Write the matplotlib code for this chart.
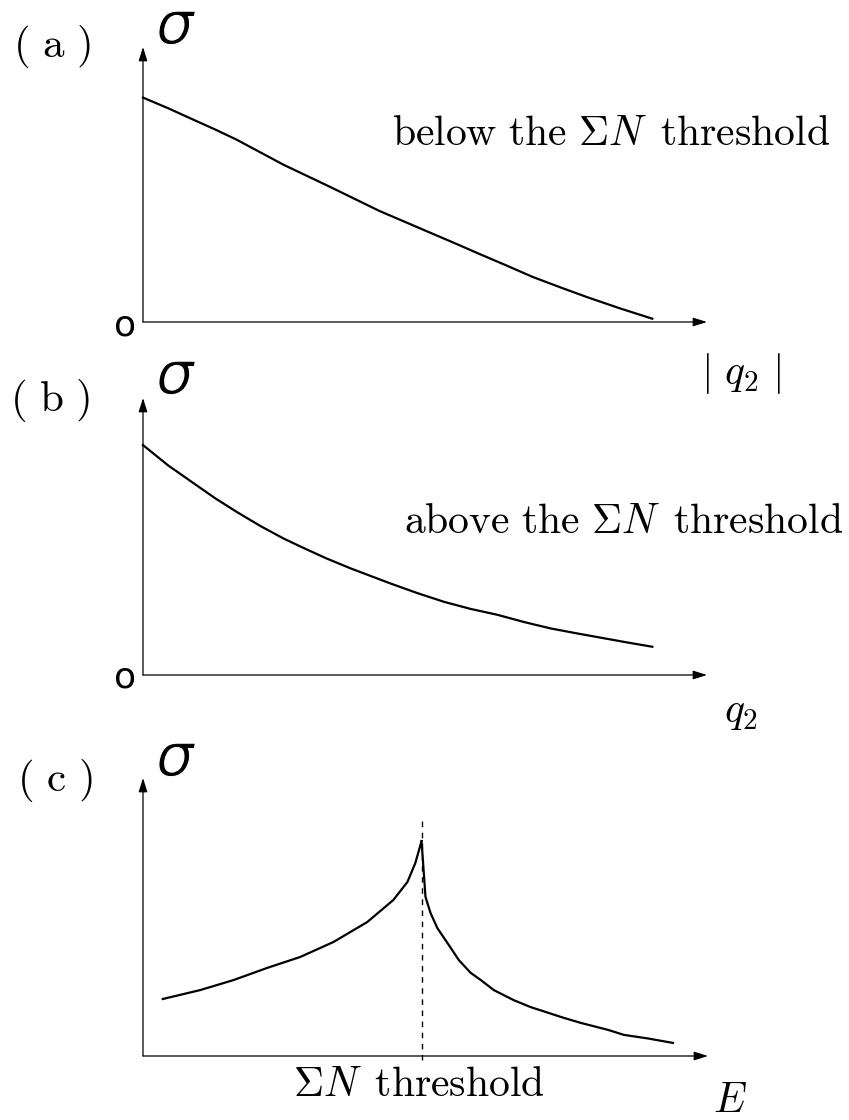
import numpy as np
import matplotlib
matplotlib.use("Agg")
import matplotlib.pyplot as plt
import matplotlib.patheffects as pe

plt.rcParams['mathtext.fontset'] = 'cm'

W, H = 849, 1120

# curve data (x and sigma as fractions of the drawn axis lengths)
a_x = [0.0, 0.045, 0.090, 0.128, 0.166, 0.208, 0.249, 0.290, 0.331, 0.375, 0.419,
       0.460, 0.502, 0.550, 0.597, 0.645, 0.692, 0.740, 0.788, 0.845, 0.903]
a_sigma = [0.816, 0.777, 0.735, 0.700, 0.663, 0.617, 0.572, 0.532, 0.492, 0.448, 0.404,
           0.368, 0.331, 0.289, 0.247, 0.205, 0.163, 0.126, 0.090, 0.050, 0.012]

b_x = [0.0, 0.045, 0.090, 0.128, 0.166, 0.208, 0.249, 0.280, 0.324, 0.368, 0.438,
       0.486, 0.534, 0.580, 0.629, 0.676, 0.723, 0.770, 0.819, 0.860, 0.903]
b_sigma = [0.830, 0.756, 0.692, 0.638, 0.589, 0.538, 0.493, 0.463, 0.422, 0.385, 0.331,
           0.296, 0.264, 0.239, 0.217, 0.191, 0.168, 0.150, 0.132, 0.117, 0.102]

c_left_x = [0.035, 0.101, 0.160, 0.220, 0.278, 0.337, 0.397, 0.443, 0.468, 0.482, 0.493]
c_left_sigma = [0.205, 0.237, 0.273, 0.317, 0.356, 0.410, 0.482, 0.561, 0.626, 0.694, 0.773]
c_right_x = [0.493, 0.500, 0.509, 0.521, 0.539, 0.559, 0.580, 0.598, 0.621, 0.656, 0.686,
             0.745, 0.775, 0.823, 0.851, 0.894, 0.938]
c_right_sigma = [0.773, 0.572, 0.514, 0.460, 0.406, 0.345, 0.299, 0.273, 0.237, 0.201, 0.176,
                 0.137, 0.119, 0.094, 0.076, 0.063, 0.047]
threshold_x = 0.493

fig = plt.figure(figsize=(W / 100, H / 100), dpi=100)


def fpos(x, y):
    return x / W, 1 - y / H


def make_axes(ox, oy, ytip, xtip):
    ax = fig.add_axes([ox / W, 1 - oy / H, (xtip - ox) / W, (oy - ytip) / H])
    ax.set_xlim(0, 1)
    ax.set_ylim(0, 1)
    ax.axis('off')
    arrow = dict(arrowstyle='-|>,head_length=0.7,head_width=0.22', lw=0.9,
                 color='black', shrinkA=0, shrinkB=0, mutation_scale=12)
    ax.annotate('', xy=(1, 0), xytext=(0, 0), xycoords='axes fraction',
                arrowprops=arrow, annotation_clip=False)
    ax.annotate('', xy=(0, 1), xytext=(0, 0), xycoords='axes fraction',
                arrowprops=arrow, annotation_clip=False)
    return ax


ax_a = make_axes(143, 322, 47, 707)
ax_a.plot(a_x, a_sigma, color='black', lw=1.6, clip_on=False)

ax_b = make_axes(143, 675, 398, 707)
ax_b.plot(b_x, b_sigma, color='black', lw=1.6, clip_on=False)

ax_c = make_axes(143, 1056, 778, 708)
ax_c.plot(c_left_x, c_left_sigma, color='black', lw=1.6, clip_on=False)
ax_c.plot(c_right_x, c_right_sigma, color='black', lw=1.6, clip_on=False)
ax_c.plot([threshold_x, threshold_x], [-0.015, 0.85], color='black', lw=1.0,
          ls=(0, (4, 4)), clip_on=False)

fs = 30

# panel labels
for lab, (x, y) in zip(['a', 'b', 'c'], [(52, 47), (50, 400), (55, 780)]):
    fig.text(*fpos(x, y), r'$(\ \mathrm{%s}\ )$' % lab, fontsize=31,
             ha='center', va='center')

# sigma labels (slanted sans sigma, thinned a little)
for y in [44, 394, 776]:
    fig.text(*fpos(156, y), r'$\sigma$', fontsize=43, math_fontfamily='dejavusans',
             ha='left', va='baseline',
             path_effects=[pe.Stroke(linewidth=0.8, foreground='white')])

# zeros
for y in [325, 677]:
    fig.text(*fpos(125, y), 'o', fontsize=26, family='DejaVu Sans',
             ha='center', va='center')

fig.text(*fpos(830, 145), r'$\mathrm{below\ the\ }\Sigma N\mathrm{\ \,threshold}$',
         fontsize=fs, ha='right', va='baseline')
fig.text(*fpos(843, 533), r'$\mathrm{above\ the\ }\Sigma N\mathrm{\ \,threshold}$',
         fontsize=fs, ha='right', va='baseline')
fig.text(*fpos(741, 384), r'$|\ q_2\ |$', fontsize=fs, ha='center', va='baseline')
fig.text(*fpos(741, 722), r'$q_2$', fontsize=fs, ha='center', va='baseline')
fig.text(*fpos(730, 1112), r'$E$', fontsize=fs, ha='center', va='baseline')
fig.text(*fpos(419, 1096), r'$\Sigma N\mathrm{\ \,threshold}$', fontsize=fs,
         ha='center', va='baseline')

fig.savefig('out.png', dpi=100, facecolor='white')
